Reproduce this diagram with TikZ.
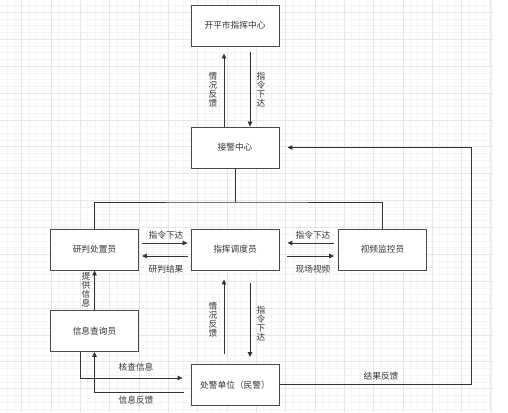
\documentclass[tikz,border=0pt]{standalone}
\usepackage{fontspec}
\setmainfont{Noto Sans CJK SC}
\usetikzlibrary{arrows.meta}
\definecolor{gridminor}{HTML}{F4F4F4}
\definecolor{gridmajor}{HTML}{E6E6E6}
\definecolor{edge}{HTML}{333333}
\definecolor{boxline}{HTML}{4A4A4A}
\definecolor{txt}{HTML}{333333}
\begin{document}
\begin{tikzpicture}[x=1pt,y=-1pt,
  box/.style={draw=boxline,line width=0.9pt,fill=white,minimum width=88pt,minimum height=41pt,inner sep=0pt,font=\fontsize{8.7}{10}\selectfont,text=txt},
  lbl/.style={font=\fontsize{8.7}{10}\selectfont,text=txt,inner sep=0pt},
  vlbl/.style={font=\fontsize{8.7}{9}\selectfont,text=txt,inner sep=0pt,align=center},
  conn/.style={draw=edge,line width=0.8pt},
  arr/.style={conn,-{Triangle[length=5pt,width=4.5pt]}}]
\useasboundingbox (0,0) rectangle (508,412);
\fill[white] (0,0) rectangle (508,412);
% grid
\foreach \i in {0,...,66}{\pgfmathsetmacro{\xx}{7.0+7.33*\i}\draw[gridminor,line width=0.5pt] (\xx,0) -- (\xx,412);}
\foreach \j in {0,...,60}{\pgfmathsetmacro{\yy}{5.58+6.72*\j}\draw[gridminor,line width=0.5pt] (0,\yy) -- (493,\yy);}
\foreach \i in {0,...,16}{\pgfmathsetmacro{\xx}{21.66+29.32*\i}\draw[gridmajor,line width=0.6pt] (\xx,0) -- (\xx,412);}
\foreach \j in {0,...,14}{\pgfmathsetmacro{\yy}{12.3+26.88*\j}\draw[gridmajor,line width=0.6pt] (0,\yy) -- (493,\yy);}
% nodes
\node[box] (top) at (235,25.5) {开平市指挥中心};
\node[box] (jj) at (235,147.5) {接警中心};
\node[box] (yp) at (94.5,249.5) {研判处置员};
\node[box] (zh) at (235,249.5) {指挥调度员};
\node[box] (sp) at (382.5,249.5) {视频监控员};
\node[box] (cx) at (94.5,331) {信息查询员};
\node[box] (cj) at (235,385) {处警单位（民警）};
% top connectors
\draw[arr,shorten >=7pt] ([xshift=-11pt]jj.north) -- ([xshift=-11pt]top.south);
\draw[arr,shorten <=6pt] ([xshift=15pt]top.south) -- ([xshift=15pt]jj.north);
\node[vlbl] (l1) at (213,90) {情\\况\\反\\馈};
\node[vlbl] (l2) at (261,90) {指\\令\\下\\达};
% tree
\coordinate (tb) at (235,202);
\draw[conn] (jj.south) -- (tb);
\draw[conn] (yp.north) |- (tb) -| (sp.north);
% yp <-> zh
\draw[arr,shorten <=3pt,shorten >=3pt] ([yshift=-6.5pt]zh.west) -- ([yshift=-6.5pt]yp.east);
\draw[arr,shorten <=3pt,shorten >=3pt] ([yshift=6.5pt]yp.east) -- ([yshift=6.5pt]zh.west);
\node[lbl] (l3) at (166,235) {指令下达};
\node[lbl] (l4) at (166,269) {研判结果};
% zh <-> sp
\draw[arr,shorten <=8pt,shorten >=4pt] ([yshift=-6.5pt]zh.east) -- ([yshift=-6.5pt]sp.west);
\draw[arr,shorten <=4pt,shorten >=8pt] ([yshift=6.5pt]sp.west) -- ([yshift=6.5pt]zh.east);
\node[lbl] (l5) at (313,235) {指令下达};
\node[lbl] (l6) at (313,269) {现场视频};
% zh <-> cj
\draw[arr,shorten <=10pt,shorten >=9pt] ([xshift=-11pt]cj.north) -- ([xshift=-11pt]zh.south);
\draw[arr,shorten <=13pt,shorten >=7pt] ([xshift=15pt]zh.south) -- ([xshift=15pt]cj.north);
\node[vlbl] (l7) at (213,320) {情\\况\\反\\馈};
\node[vlbl] (l8) at (261,323.5) {指\\令\\下\\达};
% cx -> yp
\draw[arr] (cx.north) -- (yp.south);
\node[vlbl] (l9) at (86,290) {提\\供\\信\\息};
% cj -> cx
\draw[arr,shorten <=7pt] ([yshift=-7pt]cj.west) -| (cx.south);
\node[lbl] (l10) at (136,367) {核查信息};
% cx -> cj
\coordinate (cxb) at (80,351);
\draw[arr,shorten >=8pt] (cxb) |- ([yshift=7pt]cj.west);
\node[lbl] (l11) at (136,400) {信息反馈};
% cj -> jj
\coordinate (rc) at (471,384);
\draw[arr,shorten >=8pt] (cj.east |- rc) -- (rc) |- (jj.east);
\node[lbl] (l12) at (381,376) {结果反馈};
\end{tikzpicture}
\end{document}
